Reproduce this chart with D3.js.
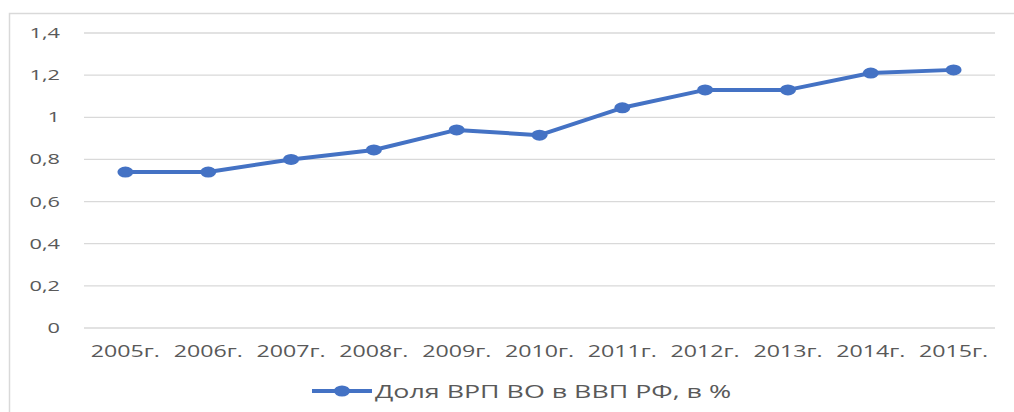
<!DOCTYPE html>
<html>
<head>
<meta charset="utf-8">
<script src="https://cdn.jsdelivr.net/npm/d3@7"></script>
<style>
  body { margin: 0; background: #fff; }
  text { font-family: "Open Sans", "DejaVu Sans", sans-serif; fill: #595959; }
</style>
</head>
<body>
<svg id="chart" width="1014" height="412"></svg>
<script>
const years = ['2005г.', '2006г.', '2007г.', '2008г.', '2009г.', '2010г.',
  '2011г.', '2012г.', '2013г.', '2014г.', '2015г.'];
const shares = [0.74, 0.74, 0.80, 0.845, 0.94, 0.915, 1.045, 1.13, 1.13, 1.21, 1.225];
const yTicks = [0, 0.2, 0.4, 0.6, 0.8, 1, 1.2, 1.4];
const seriesName = 'Доля ВРП ВО в ВВП РФ, в %';

const blue = '#4472c4';
const sx = 1.45; // the picture is stretched sideways

const svg = d3.select('#chart');

// outer frame
svg.append('rect')
  .attr('x', 9.5).attr('y', 13.5)
  .attr('width', 1100).attr('height', 500)
  .attr('fill', 'none')
  .attr('stroke', '#d9d9d9')
  .attr('stroke-width', 1.5);

const plot = {left: 84, right: 995, top: 33, bottom: 328};

const x = d3.scaleBand()
  .domain(years)
  .range([plot.left, plot.right]);

const y = d3.scaleLinear()
  .domain([0, 1.4])
  .range([plot.bottom, plot.top]);

const fmt = d => String(d).replace('.', ',');

// grid
svg.append('g')
  .selectAll('line')
  .data(yTicks)
  .join('line')
    .attr('x1', plot.left).attr('x2', plot.right)
    .attr('y1', d => y(d)).attr('y2', d => y(d))
    .attr('stroke', '#d9d9d9')
    .attr('stroke-width', 1.3);

// y labels
svg.append('g')
  .selectAll('text')
  .data(yTicks)
  .join('text')
    .attr('transform', d => `translate(60,${y(d) + 5}) scale(${sx},1)`)
    .attr('text-anchor', 'end')
    .attr('font-size', 15)
    .text(fmt);

// x labels
svg.append('g')
  .selectAll('text')
  .data(years)
  .join('text')
    .attr('transform', d => `translate(${x(d) + x.bandwidth() / 2},357) scale(${sx},1)`)
    .attr('text-anchor', 'middle')
    .attr('font-size', 16)
    .text(d => d);

const cx = d => x(d) + x.bandwidth() / 2;

const line = d3.line()
  .x((d, i) => cx(years[i]))
  .y(d => y(d));

svg.append('path')
  .datum(shares)
  .attr('d', line)
  .attr('fill', 'none')
  .attr('stroke', blue)
  .attr('stroke-width', 4)
  .attr('stroke-linejoin', 'round');

svg.append('g')
  .selectAll('ellipse')
  .data(shares)
  .join('ellipse')
    .attr('cx', (d, i) => cx(years[i]))
    .attr('cy', d => y(d))
    .attr('rx', 8)
    .attr('ry', 5.5)
    .attr('fill', blue);

// legend
const lg = svg.append('g').attr('transform', 'translate(312,391)');
lg.append('line')
  .attr('x1', 0).attr('x2', 60)
  .attr('stroke', blue).attr('stroke-width', 4);
lg.append('ellipse')
  .attr('cx', 30).attr('rx', 8).attr('ry', 5.5)
  .attr('fill', blue);
lg.append('text')
  .attr('transform', `translate(63,6.5) scale(${sx},1)`)
  .attr('font-size', 18.5)
  .text(seriesName);
</script>
</body>
</html>
